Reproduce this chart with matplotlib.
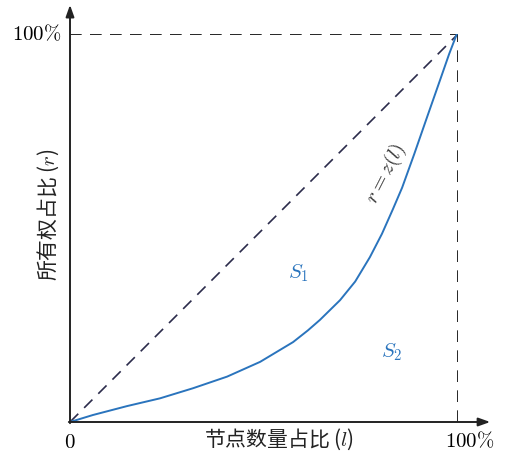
import matplotlib
matplotlib.use("Agg")
import matplotlib.pyplot as plt

plt.rcParams['font.family'] = ['Noto Sans CJK SC', 'DejaVu Sans']
plt.rcParams['mathtext.fontset'] = 'cm'

# curve r = z(l)
l_vals = [0, 0.059, 0.147, 0.232, 0.317, 0.405, 0.490, 0.575, 0.613, 0.644,
          0.696, 0.735, 0.773, 0.804, 0.832, 0.856, 0.887, 0.920, 0.954,
          0.977, 0.997]
r_vals = [0, 0.018, 0.041, 0.061, 0.087, 0.117, 0.155, 0.206, 0.236, 0.263,
          0.314, 0.362, 0.425, 0.485, 0.548, 0.604, 0.690, 0.785, 0.882,
          0.948, 1.0]

x_label = "节点数量占比 ($l$)"
y_label = "所有权占比 ($r$)"
curve_label = "$r = z(l)$"

fig = plt.figure(figsize=(5.05, 4.53), dpi=100)
# data 0..1 maps to px 70..458 (x) and 422..34 (y)
ax = fig.add_axes([70 / 505, 1 - 422 / 453, 388 / 505, 388 / 453])
ax.set_xlim(0, 1)
ax.set_ylim(0, 1)
ax.axis('off')

blue = '#2a74bd'

# dashed reference lines
ax.plot([0, 1], [0, 1], color='#2b2b4b', linestyle=(0, (7, 5)), lw=1.2)
ax.plot([1, 1], [0, 1], color='black', linestyle=(0, (7, 5)), lw=1.2)
ax.plot([0, 1], [1, 1], color='black', linestyle=(0, (7, 5)), lw=1.2)

# curve
ax.plot(l_vals, r_vals, color=blue, lw=1.4, solid_joinstyle='round')

# axes with arrows
arrow = dict(arrowstyle='-|>,head_length=0.7,head_width=0.25', color='#222222', lw=1.4,
             shrinkA=0, shrinkB=0)
ax.annotate('', xy=(1.083, 0), xytext=(-0.003, 0), arrowprops=arrow, annotation_clip=False)
ax.annotate('', xy=(0, 1.075), xytext=(0, -0.003), arrowprops=arrow, annotation_clip=False)

# tick labels
ax.text(0, -0.022, "$0$", ha='center', va='top', fontsize=15)
ax.text(1.03, -0.022, r"$100\%$", ha='center', va='top', fontsize=15)
ax.text(-0.022, 1, r"$100\%$", ha='right', va='center', fontsize=15)

# axis titles
ax.text(0.54, -0.062, x_label, ha='center', va='baseline', fontsize=15, color='#222222')
ax.text(-0.057, 0.535, y_label, ha='center', va='center', rotation=90,
        fontsize=15, color='#222222')

# annotations
ax.text(0.815, 0.64, curve_label, rotation=63, ha='center', va='center',
        fontsize=15, color='#333333')
ax.text(0.59, 0.385, "$S_1$", color=blue, fontsize=15, ha='center', va='center')
ax.text(0.83, 0.18, "$S_2$", color=blue, fontsize=15, ha='center', va='center')

fig.savefig("out.png", dpi=100)
